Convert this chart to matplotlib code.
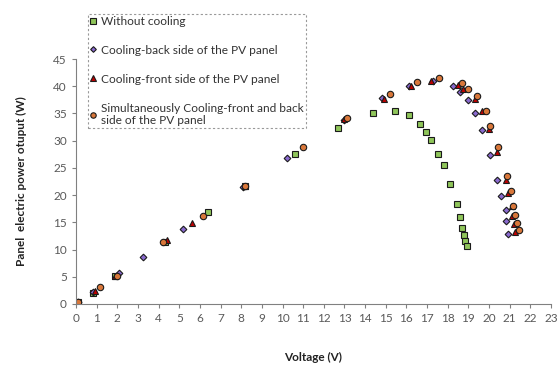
import matplotlib
matplotlib.use('Agg')
import matplotlib.pyplot as plt

plt.rcParams['font.family'] = ['Lato', 'DejaVu Sans']

# ── Measured I-V sweep: voltage (V) and power (W) ────────────
v_none = [0.1, 0.8, 1.9, 4.3, 6.4, 8.2, 10.6, 12.7, 14.4, 15.45, 16.1, 16.65,
          16.95, 17.2, 17.55, 17.8, 18.1, 18.45, 18.6, 18.7, 18.8, 18.85, 18.95]
p_none = [0.3, 2.1, 5.1, 11.3, 16.9, 21.6, 27.6, 32.3, 35.0, 35.4, 34.8, 33.0,
          31.6, 30.1, 27.6, 25.5, 22.1, 18.3, 16.0, 14.0, 12.7, 11.6, 10.6]

v_back = [0.1, 0.8, 2.1, 3.25, 5.2, 8.1, 10.2, 13.0, 14.8, 16.1, 17.3, 18.25,
          18.6, 19.0, 19.3, 19.65, 20.05, 20.4, 20.6, 20.8, 20.8, 20.9]
p_back = [0.3, 2.2, 5.7, 8.7, 13.7, 21.5, 26.8, 33.8, 37.9, 40.0, 40.9, 40.1,
          39.0, 37.5, 35.1, 32.0, 27.3, 22.8, 19.9, 17.3, 15.2, 12.9]

v_front = [0.1, 0.9, 1.9, 4.4, 5.6, 8.2, 13.0, 14.9, 16.2, 17.2, 18.5, 18.75,
           19.3, 19.65, 20.0, 20.4, 20.8, 20.9, 21.1, 21.1, 21.2, 21.25]
p_front = [0.3, 2.3, 5.1, 11.7, 14.9, 21.6, 33.9, 37.7, 40.1, 41.0, 40.3, 39.5,
           37.7, 35.5, 32.2, 27.9, 22.8, 20.4, 18.0, 16.2, 14.7, 13.2]

v_both = [0.1, 1.15, 2.0, 4.2, 6.15, 8.2, 11.0, 13.1, 15.2, 16.5, 17.6, 18.7,
          19.0, 19.4, 19.85, 20.05, 20.45, 20.85, 21.05, 21.15, 21.25, 21.35, 21.45]
p_both = [0.3, 3.2, 5.2, 11.3, 16.2, 21.6, 28.8, 34.1, 38.5, 40.8, 41.5, 40.6,
          39.5, 38.2, 35.5, 32.7, 28.9, 23.5, 20.8, 18.0, 16.3, 14.9, 13.6]

labels = ['Without cooling',
          'Cooling-back side of the PV panel',
          'Cooling-front side of the PV panel',
          'Simultaneously Cooling-front and back\nside of the PV panel']

GRAY = '#808080'
TXT = '#595959'

fig = plt.figure(figsize=(5.58, 3.69), dpi=100, facecolor='white')
ax = fig.add_axes([76/558, 1 - 304/369, 475/558, 245/369])

common = dict(linestyle='none', markeredgecolor='#1a1a1a', markeredgewidth=0.8)
ax.plot(v_none, p_none, marker='s', markersize=4.3, markerfacecolor='#8fc55a',
        label=labels[0], **common)
ax.plot(v_back, p_back, marker='D', markersize=3.4, markerfacecolor='#8a6ad0',
        label=labels[1], **common)
ax.plot(v_front, p_front, marker='^', markersize=4.4, markerfacecolor='#c00000',
        label=labels[2], **common)
ax.plot(v_both, p_both, marker='o', markersize=4.6, markerfacecolor='#d9773a',
        label=labels[3], **common)

ax.set_xlim(0, 23)
ax.set_ylim(0, 45)
ax.set_xticks(range(0, 24))
ax.set_yticks(range(0, 46, 5))
ax.spines[['top', 'right']].set_visible(False)
for s in ('left', 'bottom'):
    ax.spines[s].set_color(GRAY)
ax.tick_params(colors=GRAY, labelcolor=TXT, labelsize=8.5, length=3, width=0.8)

ax.set_xlabel('Voltage (V)', fontsize=8.5, fontweight='bold', color='#222222', labelpad=20)
ax.set_ylabel('Panel  electric power otuput (W)', fontsize=8.5, fontweight='bold',
              color='#222222', labelpad=19)

leg = fig.legend(loc='upper left', bbox_to_anchor=(82/558, 1 - 8/369),
                 fontsize=8.6, labelspacing=1.5, handlelength=0.6, handletextpad=0.35,
                 borderpad=0.15, frameon=True, fancybox=False, markerscale=0.85)
leg.get_frame().set_edgecolor(GRAY)
leg.get_frame().set_linestyle((0, (2, 2)))
leg.get_frame().set_linewidth(0.8)
for t in leg.get_texts():
    t.set_color('#333333')

plt.savefig('out.png', dpi=100, facecolor='white')
plt.close()
